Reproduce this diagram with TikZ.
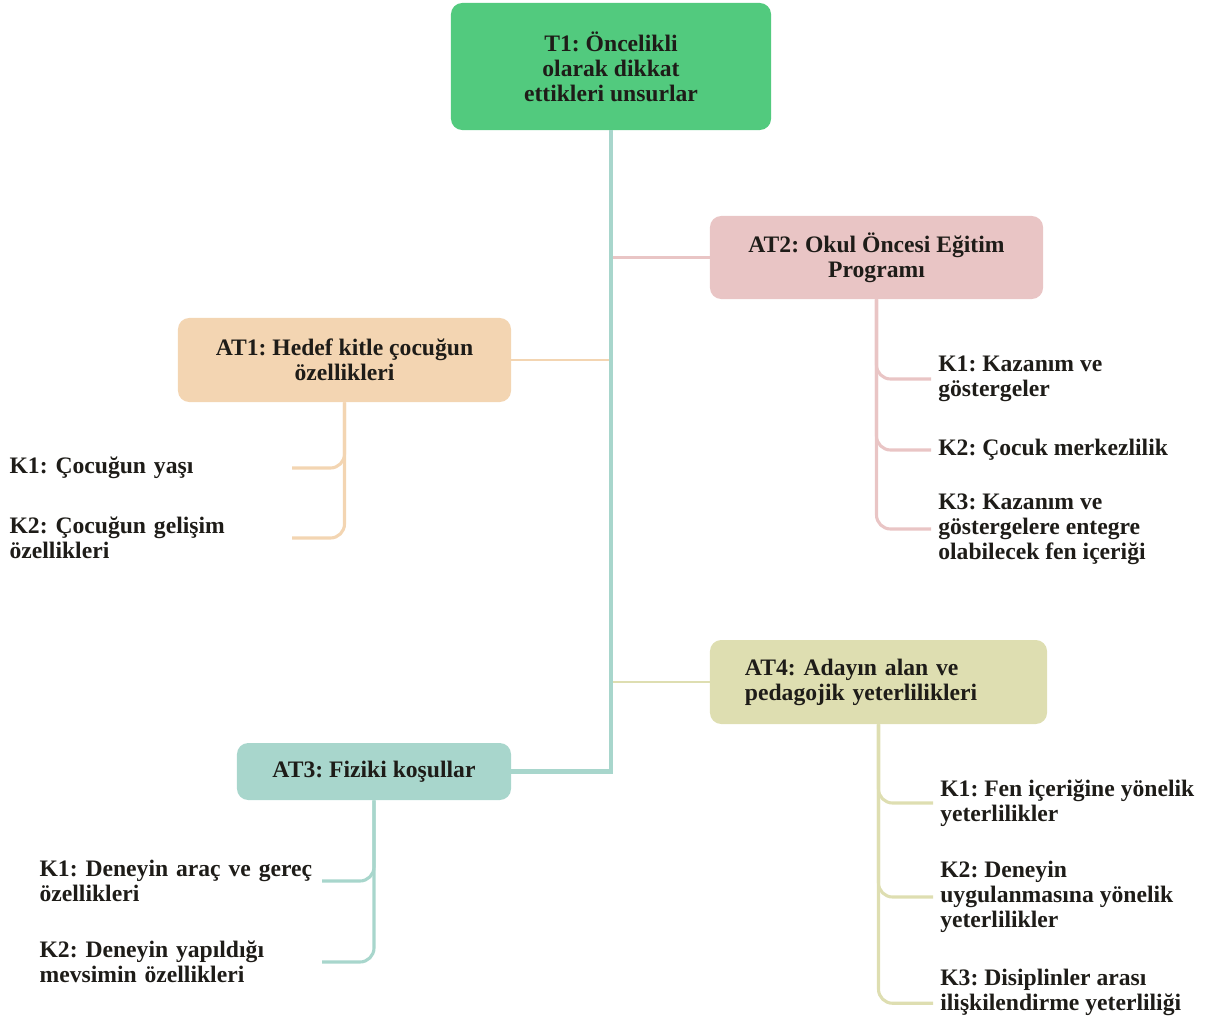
\documentclass[tikz,border=0pt]{standalone}
\usepackage{fontspec}
\setmainfont{Liberation Serif}
\frenchspacing
\definecolor{tgreen}{RGB}{82,202,126}
\definecolor{peach}{RGB}{243,213,178}
\definecolor{rose}{RGB}{233,197,197}
\definecolor{teal}{RGB}{168,214,204}
\definecolor{olive}{RGB}{222,222,177}
\definecolor{ink}{RGB}{30,28,24}
\begin{document}
\begin{tikzpicture}[x=0.025cm, y={(0,-0.025cm)},
    every node/.style={font=\bfseries\fontsize{16.8}{17.7}\selectfont, text=ink},
    box/.style={rounded corners=8pt, inner sep=0pt, align=center},
    leaf/.style={inner sep=5pt, align=left},
    limb/.style={line width=2.1pt},
    twig/.style={line width=2.2pt, rounded corners=10pt}]
  \useasboundingbox (0,0) rectangle (1216,1021);
  \node[box, fill=tgreen, minimum width=8cm, minimum height=3.175cm] (T1) at (611,66.5) {T1: Öncelikli\\olarak dikkat\\ettikleri unsurlar};
  \node[box, fill=peach, minimum width=8.325cm, minimum height=2.1cm] (AT1) at (344.5,360) {AT1: Hedef kitle çocuğun\\özellikleri};
  \node[box, fill=rose, minimum width=8.325cm, minimum height=2.075cm] (AT2) at (876.5,257.5) {AT2: Okul Öncesi Eğitim\\Programı};
  \node[box, fill=teal, minimum width=6.85cm, minimum height=1.425cm] (AT3) at (374,771.5) {AT3: Fiziki koşullar};
  \node[box, fill=olive, minimum height=2.1cm, inner xsep=0.875cm, text width=6.675cm, align=left] (AT4) at (878.5,682) {AT4: Adayın alan ve\\pedagojik yeterlilikleri};
  \node[leaf, text width=6.875cm, anchor=east] (K11) at (292,468) {K1: Çocuğun yaşı};
  \node[leaf, text width=6.875cm, anchor=east] (K12) at (292,538) {K2: Çocuğun gelişim\\özellikleri};
  \node[leaf, anchor=west] (K21) at (931,379) {K1: Kazanım ve\\göstergeler};
  \node[leaf, anchor=west] (K22) at (931,450) {K2: Çocuk merkezlilik};
  \node[leaf, anchor=west] (K23) at (931,529) {K3: Kazanım ve\\göstergelere entegre\\olabilecek fen içeriği};
  \node[leaf, text width=6.875cm, anchor=east] (K31) at (322,881) {K1: Deneyin araç ve gereç\\özellikleri};
  \node[leaf, text width=6.875cm, anchor=east] (K32) at (322,962) {K2: Deneyin yapıldığı\\mevsimin özellikleri};
  \node[leaf, anchor=west] (K41) at (933,803) {K1: Fen içeriğine yönelik\\yeterlilikler};
  \node[leaf, anchor=west] (K42) at (933,897) {K2: Deneyin\\uygulanmasına yönelik\\yeterlilikler};
  \node[leaf, anchor=west] (K43) at (933,992) {K3: Disiplinler arası\\ilişkilendirme yeterliliği};
  \draw[limb, rose] (T1.south) |- (AT2.west);
  \draw[limb, peach] (T1.south) |- (AT1.east);
  \draw[limb, olive] (T1.south) |- (AT4.west);
  \draw[line width=3.5pt, teal] (T1.south) |- (AT3.east);
  \draw[twig, peach] (AT1.south) |- (K11.east);
  \draw[twig, peach] (AT1.south) |- (K12.east);
  \draw[twig, rose] (AT2.south) |- (K21.west);
  \draw[twig, rose] (AT2.south) |- (K22.west);
  \draw[twig, rose] (AT2.south) |- (K23.west);
  \draw[twig, teal] (AT3.south) |- (K31.east);
  \draw[twig, teal] (AT3.south) |- (K32.east);
  \draw[twig, olive] (AT4.south) |- (K41.west);
  \draw[twig, olive] (AT4.south) |- (K42.west);
  \draw[twig, olive] (AT4.south) |- ([yshift=-8pt]K43.west);
\end{tikzpicture}
\end{document}
